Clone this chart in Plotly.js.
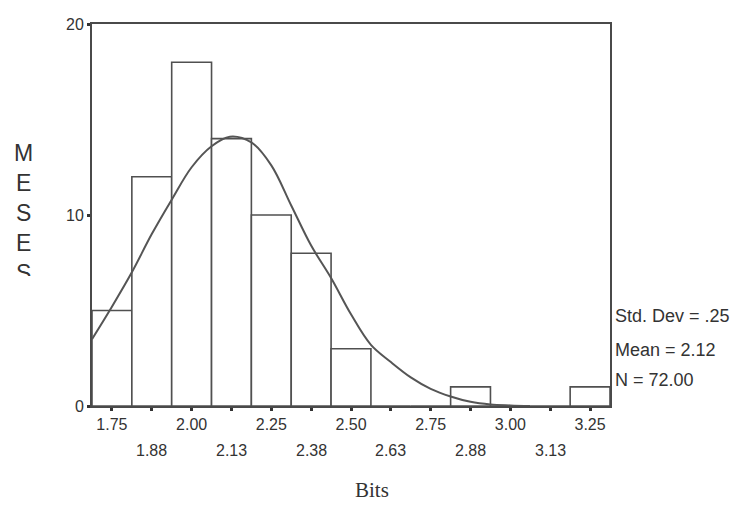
<!DOCTYPE html>
<html>
<head>
<meta charset="utf-8">
<script src="https://cdn.plot.ly/plotly-3.0.1.min.js"></script>
<style>
  html, body { margin: 0; padding: 0; background: #ffffff; }
  #wrap { position: relative; width: 739px; height: 522px; }
  #chart { width: 739px; height: 522px; }
  #mask { position: absolute; left: 0; top: 276px; width: 60px; height: 30px; background: #ffffff; }
</style>
</head>
<body>
<div id="wrap">
  <div id="chart"></div>
  <div id="mask"></div>
</div>
<script>
// Histogram bins (centres) and counts
var binCenters = [1.75, 1.875, 2.0, 2.125, 2.25, 2.375, 2.5, 2.625, 2.75, 2.875, 3.0, 3.125, 3.25];
var counts     = [5, 12, 18, 14, 10, 8, 3, 0, 0, 1, 0, 0, 1];
var binWidth = 0.125;

// Tick labels (two staggered rows)
var row1Labels = ['1.75', '', '2.00', '', '2.25', '', '2.50', '', '2.75', '', '3.00', '', '3.25'];
var row2Vals   = [1.875, 2.125, 2.375, 2.625, 2.875, 3.125];
var row2Labels = ['1.88', '2.13', '2.38', '2.63', '2.88', '3.13'];

// Normal curve
var curveX = [1.6875, 1.75, 1.8125, 1.875, 1.9375, 2.0, 2.0625, 2.12, 2.1875, 2.25, 2.3125, 2.375, 2.4375, 2.5, 2.5625, 2.625, 2.6875, 2.75, 2.8125, 2.875, 2.9375, 3.0, 3.0625];
var curveY = [3.5, 5.2, 7.0, 9.0, 10.8, 12.5, 13.6, 14.1, 13.8, 12.6, 10.5, 8.4, 6.7, 4.8, 3.2, 2.3, 1.5, 0.9, 0.5, 0.22, 0.08, 0.03, 0.0];

// Statistics
var statLines = ['Std. Dev = .25', 'Mean = 2.12', 'N = 72.00'];
var yLabelLetters = ['M', 'E', 'S', 'E', 'S'];

var textColor = '#333333';
var lineColor = '#4a4a4a';

var traces = [
  {
    type: 'bar',
    x: binCenters,
    y: counts,
    width: binWidth,
    marker: { color: '#ffffff', line: { color: '#505050', width: 1.6 } },
    hoverinfo: 'skip'
  },
  {
    type: 'scatter',
    mode: 'lines',
    x: curveX,
    y: curveY,
    line: { color: '#555555', width: 2, shape: 'spline', smoothing: 1 },
    hoverinfo: 'skip'
  }
];

var annotations = [];
row2Vals.forEach(function (v, i) {
  annotations.push({
    xref: 'x', yref: 'paper', x: v, y: -0.117,
    xanchor: 'center', yanchor: 'middle',
    text: row2Labels[i], showarrow: false,
    font: { family: 'Liberation Sans, Arial, sans-serif', size: 16, color: textColor }
  });
});
var statY = [0.236, 0.147, 0.068];
statLines.forEach(function (t, i) {
  annotations.push({
    xref: 'paper', yref: 'paper', x: 1.006, y: statY[i],
    xanchor: 'left', yanchor: 'middle',
    text: t, showarrow: false,
    font: { family: 'Liberation Sans, Arial, sans-serif', size: 18, color: textColor }
  });
});
annotations.push({
  xref: 'paper', yref: 'paper', x: 0.54, y: -0.22,
  xanchor: 'center', yanchor: 'middle',
  text: 'Bits', showarrow: false,
  font: { family: 'Liberation Serif, Times New Roman, serif', size: 21, color: textColor }
});
annotations.push({
  xref: 'paper', yref: 'paper', x: -0.133, y: 0.505,
  xanchor: 'center', yanchor: 'middle',
  text: yLabelLetters.join('<br>'), showarrow: false,
  font: { family: 'Liberation Sans, Arial, sans-serif', size: 23, color: textColor }
});

var layout = {
  width: 739,
  height: 522,
  margin: { l: 92, r: 129, t: 24, b: 116 },
  paper_bgcolor: '#ffffff',
  plot_bgcolor: '#ffffff',
  showlegend: false,
  bargap: 0,
  xaxis: {
    range: [1.6875, 3.3125],
    tickmode: 'array',
    tickvals: binCenters,
    ticktext: row1Labels,
    ticks: 'outside',
    ticklen: 3,
    tickwidth: 3,
    tickcolor: '#333333',
    showgrid: false,
    zeroline: false,
    showline: true,
    linecolor: lineColor,
    linewidth: 2,
    mirror: true,
    tickfont: { family: 'Liberation Sans, Arial, sans-serif', size: 16, color: textColor }
  },
  yaxis: {
    range: [0, 20],
    tickmode: 'array',
    tickvals: [0, 10, 20],
    ticktext: ['0', '10', '20'],
    ticks: 'outside',
    ticklen: 3,
    tickwidth: 3,
    tickcolor: '#333333',
    showgrid: false,
    zeroline: false,
    showline: true,
    linecolor: lineColor,
    linewidth: 2,
    mirror: true,
    tickfont: { family: 'Liberation Sans, Arial, sans-serif', size: 16, color: textColor }
  },
  annotations: annotations
};

Plotly.newPlot('chart', traces, layout, { displayModeBar: false, staticPlot: true });
</script>
</body>
</html>
